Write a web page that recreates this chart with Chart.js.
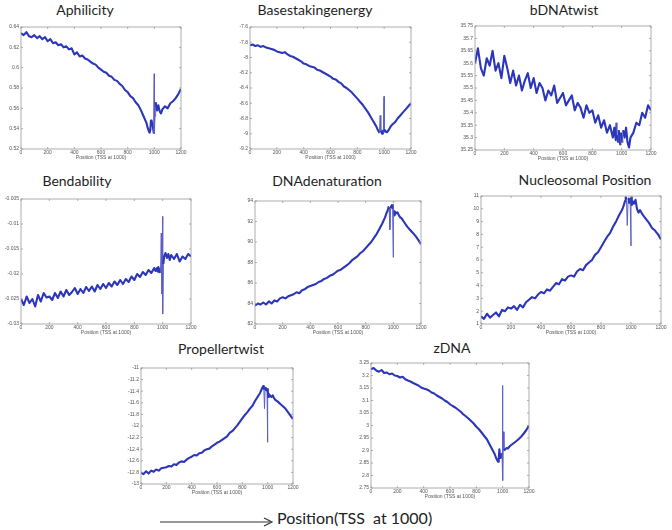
<!DOCTYPE html>
<html>
<head>
<meta charset="utf-8">
<script src="https://cdn.jsdelivr.net/npm/chart.js@4.4.0/dist/chart.umd.min.js"></script>
<style>
  body { margin: 0; width: 672px; height: 530px; background: #fff; position: relative; overflow: hidden;
         font-family: Lato, "Open Sans", sans-serif; }
  .title { position: absolute; font-size: 14px; color: #1e1e1e; white-space: nowrap; transform: translateX(-50%); line-height: 1; }
  canvas { position: absolute; }
  #xlabel { position: absolute; left: 277px; top: 510px; font-size: 16px; color: #222; white-space: nowrap; line-height: 1; }
  #arrow { position: absolute; left: 158px; top: 516px; }
</style>
</head>
<body>
<svg id="arrow" width="120" height="12"><line x1="2" y1="6" x2="112" y2="6" stroke="#333" stroke-width="1.2"/><path d="M106 2 L114 6 L106 10" fill="none" stroke="#333" stroke-width="1.2"/></svg>
<div id="xlabel">Position(TSS&nbsp; at 1000)</div>
<script>
// positions along the promoter, TSS at 1000 (denser round the TSS spikes)
const positions = [0,20,40,60,80,100,120,140,160,180,200,220,240,260,280,300,320,340,360,380,
  400,420,440,460,480,500,520,540,560,580,600,620,640,660,680,700,720,740,760,780,
  800,820,840,860,880,900,920,940,
  950,960,965,970,975,980,985,990,995,1000,1000,1005,1010,
  1020,1030,1040,1050,1060,
  1080,1100,1120,1140,1160,1180,1200];

const aphilicity = [0.634,0.632,0.635,0.631,0.630,0.632,0.629,0.631,0.628,0.630,
  0.626,0.628,0.624,0.625,0.622,0.623,0.620,0.621,0.618,0.619,
  0.613,0.615,0.611,0.612,0.609,0.608,0.606,0.604,0.603,0.600,
  0.598,0.596,0.595,0.592,0.591,0.588,0.587,0.584,0.582,0.578,
  0.576,0.572,0.570,0.566,0.563,0.558,0.552,0.546,
  0.541,0.537,0.536,0.539,0.548,0.544,0.546,0.541,0.536,0.594,0.535,0.552,0.566,
  0.558,0.563,0.557,0.555,0.559,
  0.562,0.560,0.565,0.567,0.570,0.574,0.579];

const basestacking = [-7.84,-7.83,-7.85,-7.84,-7.86,-7.85,-7.87,-7.88,-7.89,-7.90,
  -7.92,-7.93,-7.94,-7.93,-7.96,-7.98,-7.99,-8.01,-8.03,-8.05,
  -8.08,-8.09,-8.11,-8.12,-8.13,-8.16,-8.17,-8.19,-8.21,-8.23,
  -8.25,-8.28,-8.29,-8.32,-8.34,-8.38,-8.40,-8.43,-8.46,-8.50,
  -8.54,-8.58,-8.62,-8.67,-8.72,-8.78,-8.84,-8.90,
  -8.94,-8.97,-8.99,-8.76,-8.96,-8.98,-9.00,-8.97,-8.95,-8.51,-8.97,-8.95,-8.97,
  -8.98,-8.96,-8.93,-8.90,-8.88,
  -8.85,-8.80,-8.76,-8.72,-8.68,-8.64,-8.60];

const bdnaTwist = [35.60,35.66,35.58,35.55,35.62,35.59,35.65,35.57,35.60,35.54,
  35.63,35.58,35.52,35.57,35.51,35.55,35.49,35.53,35.56,35.50,
  35.54,35.48,35.52,35.50,35.45,35.49,35.47,35.51,35.44,35.46,
  35.48,35.43,35.45,35.47,35.41,35.44,35.42,35.38,35.43,35.40,
  35.41,35.36,35.39,35.34,35.37,35.32,35.35,35.30,
  35.34,35.29,35.36,35.31,35.28,35.33,35.30,35.27,35.32,35.29,35.31,35.28,35.33,
  35.30,35.34,35.28,35.26,35.30,
  35.32,35.36,35.35,35.40,35.38,35.43,35.41];

const bendability = [-0.0250,-0.0262,-0.0245,-0.0258,-0.0250,-0.0265,-0.0242,-0.0255,-0.0238,-0.0247,
  -0.0245,-0.0252,-0.0238,-0.0248,-0.0235,-0.0245,-0.0232,-0.0242,-0.0236,-0.0228,
  -0.0240,-0.0230,-0.0238,-0.0226,-0.0234,-0.0225,-0.0235,-0.0222,-0.0230,-0.0220,
  -0.0228,-0.0218,-0.0225,-0.0215,-0.0222,-0.0212,-0.0220,-0.0210,-0.0216,-0.0205,
  -0.0212,-0.0200,-0.0206,-0.0196,-0.0202,-0.0192,-0.0198,-0.0188,
  -0.0194,-0.0188,-0.0195,-0.0186,-0.0196,-0.0190,-0.0198,-0.0118,-0.0240,-0.0085,-0.0280,-0.0180,-0.0165,
  -0.0158,-0.0168,-0.0160,-0.0172,-0.0162,
  -0.0170,-0.0160,-0.0175,-0.0165,-0.0170,-0.0160,-0.0165];

const denaturation = [83.8,84.0,83.9,84.1,83.9,84.2,84.0,84.3,84.2,84.5,
  84.6,84.5,84.7,84.8,84.9,85.1,85.0,85.3,85.4,85.6,
  85.7,85.8,85.9,86.1,86.2,86.4,86.5,86.7,86.8,87.0,
  87.2,87.3,87.5,87.7,87.9,88.2,88.4,88.6,88.9,89.1,
  89.4,89.7,90.0,90.4,90.8,91.3,91.8,92.4,
  92.8,93.1,93.4,93.2,91.2,93.3,93.5,93.6,93.2,88.5,93.7,92.6,93.0,
  92.8,92.9,92.6,92.4,92.3,
  91.9,91.5,91.2,90.9,90.6,90.2,89.8];

const nucleosomal = [1.6,1.4,1.8,1.5,1.7,1.9,1.6,2.1,2.0,2.3,
  2.2,2.4,2.1,2.5,2.3,2.7,2.9,3.1,3.0,3.3,
  3.5,3.4,3.7,3.6,3.9,4.2,4.1,4.5,4.4,4.7,
  4.8,4.7,5.1,5.3,5.2,5.6,5.8,6.0,6.4,6.6,
  7.0,7.4,7.8,8.1,8.6,9.0,9.5,9.9,
  10.2,10.6,10.9,10.7,8.7,10.5,10.8,10.6,10.4,7.1,10.9,10.3,10.6,
  10.4,10.7,10.0,9.7,9.9,
  9.5,9.2,8.9,8.5,8.3,8.0,7.6];

const propellerTwist = [-12.80,-12.83,-12.78,-12.82,-12.77,-12.79,-12.75,-12.77,-12.73,-12.72,
  -12.71,-12.69,-12.70,-12.66,-12.67,-12.63,-12.61,-12.62,-12.58,-12.55,
  -12.53,-12.50,-12.51,-12.47,-12.46,-12.42,-12.40,-12.39,-12.35,-12.32,
  -12.29,-12.27,-12.24,-12.21,-12.18,-12.12,-12.09,-12.04,-11.99,-11.93,
  -11.87,-11.81,-11.76,-11.70,-11.65,-11.57,-11.50,-11.43,
  -11.38,-11.33,-11.31,-11.36,-11.70,-11.34,-11.38,-11.36,-11.40,-12.28,-11.35,-11.50,-11.45,
  -11.48,-11.50,-11.47,-11.52,-11.55,
  -11.58,-11.62,-11.66,-11.70,-11.76,-11.82,-11.88];

const zDna = [3.225,3.230,3.220,3.215,3.222,3.210,3.212,3.205,3.208,3.200,
  3.198,3.192,3.195,3.185,3.180,3.176,3.170,3.165,3.160,3.152,
  3.148,3.145,3.140,3.132,3.128,3.120,3.114,3.108,3.100,3.094,
  3.085,3.078,3.072,3.064,3.056,3.045,3.037,3.028,3.018,3.008,
  2.995,2.985,2.972,2.958,2.945,2.925,2.905,2.885,
  2.870,2.860,2.855,2.865,2.905,2.870,2.880,2.875,2.890,3.160,2.780,2.975,2.900,
  2.905,2.910,2.908,2.915,2.920,
  2.928,2.936,2.945,2.955,2.968,2.982,3.000];

// tick labels
const xTicks = ['0','200','400','600','800','1000','1200'];
const aphilicityTicks = ['0.52','0.54','0.56','0.58','0.6','0.62','0.64'];
const basestackingTicks = ['-9.2','-9','-8.8','-8.6','-8.4','-8.2','-8','-7.8','-7.6'];
const bdnaTwistTicks = ['35.25','35.3','35.35','35.4','35.45','35.5','35.55','35.6','35.65','35.7','35.75'];
const bendabilityTicks = ['-0.03','-0.025','-0.02','-0.015','-0.01','-0.005'];
const denaturationTicks = ['82','84','86','88','90','92','94'];
const nucleosomalTicks = ['1','2','3','4','5','6','7','8','9','10','11'];
const propellerTicks = ['-13','-12.8','-12.6','-12.4','-12.2','-12','-11.8','-11.6','-11.4','-11.2','-11'];
const zDnaTicks = ['2.75','2.8','2.85','2.9','2.95','3','3.05','3.1','3.15','3.2','3.25'];

const titles = ['Aphilicity','Basestakingenergy','bDNAtwist','Bendability','DNAdenaturation',
  'Nucleosomal Position','Propellertwist','zDNA'];
const seriesList = [aphilicity, basestacking, bdnaTwist, bendability, denaturation, nucleosomal, propellerTwist, zDna];
const tickList = [aphilicityTicks, basestackingTicks, bdnaTwistTicks, bendabilityTicks, denaturationTicks,
  nucleosomalTicks, propellerTicks, zDnaTicks];

// layout: plot box [left, top, right, bottom] and title centre [x, y] in page pixels
const boxes = [[21,27,181,149],[250,27,411,149],[475,26,651,150],
  [21,199,191,324],[255,201,421,324],[481,196,661,324],
  [141,368,293,484],[371,363,529,488]];
const titleAt = [[85,3],[315,3],[564,3],[77,174],[327,174],[585,173],[221,342],[452,341]];

const PAD_L = 22, PAD_T = 4, PAD_R = 8, PAD_B = 12;
const LINE = '#2b36b8';
const SPIKE = '#5a5fc4';

// MATLAB look: full box with inward ticks on all four sides
const matlabFrame = {
  id: 'matlabFrame',
  afterDatasetsDraw(chart) {
    const { ctx, chartArea: a, scales: { x, y } } = chart;
    ctx.save();
    ctx.strokeStyle = '#9a9a9a';
    ctx.lineWidth = 0.8;
    ctx.strokeRect(a.left, a.top, a.right - a.left, a.bottom - a.top);
    ctx.beginPath();
    x.ticks.forEach(t => {
      const px = x.getPixelForValue(t.value);
      ctx.moveTo(px, a.bottom); ctx.lineTo(px, a.bottom - 2);
      ctx.moveTo(px, a.top); ctx.lineTo(px, a.top + 2);
    });
    y.ticks.forEach(t => {
      const py = y.getPixelForValue(t.value);
      ctx.moveTo(a.left, py); ctx.lineTo(a.left + 2, py);
      ctx.moveTo(a.right, py); ctx.lineTo(a.right - 2, py);
    });
    ctx.stroke();
    ctx.restore();
  }
};

const tickFont = { family: 'Liberation Sans, Arial, sans-serif', size: 5 };
// the single-sample spikes round the TSS are drawn thin, as in the original
const steep = c => c.p0.parsed.x >= 965 && c.p1.parsed.x <= 1010 && Math.abs(c.p1.y - c.p0.y) > 10;

function panel(i) {
  const [l, t, r, b] = boxes[i];
  const labels = tickList[i];
  const canvas = document.createElement('canvas');
  canvas.width = (r - l) + PAD_L + PAD_R;
  canvas.height = (b - t) + PAD_T + PAD_B;
  canvas.style.left = (l - PAD_L) + 'px';
  canvas.style.top = (t - PAD_T) + 'px';
  document.body.appendChild(canvas);

  const title = document.createElement('div');
  title.className = 'title';
  title.textContent = titles[i];
  title.style.left = titleAt[i][0] + 'px';
  title.style.top = titleAt[i][1] + 'px';
  document.body.appendChild(title);

  new Chart(canvas, {
    type: 'line',
    data: {
      datasets: [{
        data: positions.map((x, k) => ({ x, y: seriesList[i][k] })),
        borderColor: LINE, borderWidth: 2.1, pointRadius: 0, tension: 0, fill: false,
        borderJoinStyle: 'round',
        segment: {
          borderWidth: c => steep(c) ? 1 : undefined,
          borderColor: c => steep(c) ? SPIKE : undefined,
        },
      }],
    },
    options: {
      responsive: false, animation: false, devicePixelRatio: 1,
      layout: { padding: { left: 0, top: PAD_T, right: PAD_R, bottom: 0 } },
      plugins: { legend: { display: false }, tooltip: { enabled: false } },
      scales: {
        x: {
          type: 'linear', min: 0, max: 1200,
          grid: { display: false, drawTicks: false }, border: { display: false },
          afterBuildTicks: s => { s.ticks = xTicks.map(v => ({ value: parseFloat(v) })); },
          afterFit: s => { s.height = PAD_B; s.paddingLeft = 0; s.paddingRight = 0; },
          ticks: { color: '#555', font: tickFont, padding: 1, maxRotation: 0, autoSkip: false,
                   callback: (v, k) => xTicks[k] },
          title: { display: true, text: 'Position (TSS at 1000)', color: '#555', font: tickFont,
                   padding: { top: 0, bottom: 0 } },
        },
        y: {
          min: parseFloat(labels[0]), max: parseFloat(labels[labels.length - 1]),
          grid: { display: false, drawTicks: false }, border: { display: false },
          afterBuildTicks: s => { s.ticks = labels.map(v => ({ value: parseFloat(v) })); },
          afterFit: s => { s.width = PAD_L; s.paddingTop = 0; s.paddingBottom = 0; },
          ticks: { color: '#555', font: tickFont, padding: 2, autoSkip: false,
                   callback: (v, k) => labels[k] },
        },
      },
    },
    plugins: [matlabFrame],
  });
}

titles.forEach((_, i) => panel(i));
</script>
</body>
</html>
